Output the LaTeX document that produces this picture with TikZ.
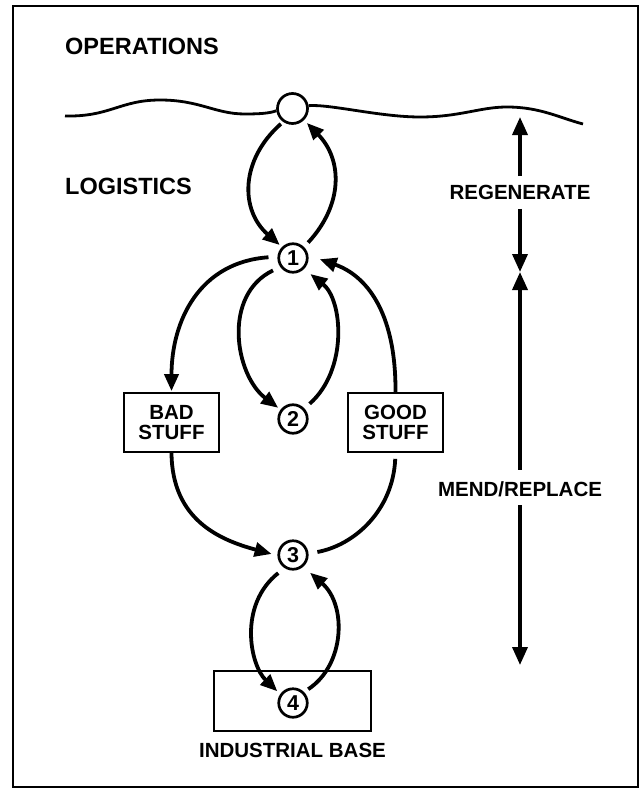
\documentclass[tikz,border=0pt]{standalone}
\usepackage{fontspec}
\setmainfont{Liberation Sans}
\usetikzlibrary{arrows.meta}
\begin{document}
\begin{tikzpicture}[x=1pt,y=-1pt,
  lbl/.style={font=\fontsize{20.5}{20.5}\selectfont\bfseries, inner sep=0pt},
  biglbl/.style={font=\fontsize{23.5}{23.5}\selectfont\bfseries, inner sep=0pt, anchor=west},
  numc/.style={circle, draw, line width=2.7pt, minimum size=28.5pt, inner sep=0pt, fill=white, font=\fontsize{21.5}{21.5}\selectfont\bfseries},
  topc/.style={circle, draw, line width=2.7pt, minimum size=30pt, inner sep=0pt, fill=white},
  stuffbox/.style={draw, line width=1.7pt, minimum width=95pt, minimum height=59pt, align=center, inner sep=0pt, font=\fontsize{20.5}{20}\selectfont\bfseries},
  basebox/.style={draw, line width=1.7pt, minimum width=157pt, minimum height=60pt, inner sep=0pt},
  flow/.style={line width=3.8pt, -{Triangle[length=17pt,width=14pt]}},
  plainflow/.style={line width=3.8pt},
  wave/.style={line width=2.8pt},
  scalearrow/.style={line width=3.6pt, -{Triangle[length=18pt,width=15pt]}},
]
\useasboundingbox (0,0) rectangle (639,797);
\fill[white] (0,0) rectangle (639,797);
\draw[line width=1.3pt] (13,6) rectangle (638,787);

% texts
\node[biglbl] (ops) at (65,46.5) {OPERATIONS};
\node[biglbl] (log) at (65,186.5) {LOGISTICS};
\node[lbl] (reg) at (520,192.5) {REGENERATE};
\node[lbl] (mend) at (520,489.5) {MEND/REPLACE};
\node[lbl] (ind) at (292.5,750) {INDUSTRIAL BASE};

% boxes and circles
\node[basebox] (base) at (292.5,701) {};
\node[topc] (op) at (292.5,108.5) {};
\node[numc] (n1) at (293,258) {1};
\node[numc] (n2) at (293,419) {2};
\node[numc] (n3) at (293,555) {3};
\node[numc] (n4) at (293,703) {4};
\node[stuffbox] (bad) at (171.5,422.5) {BAD\\STUFF};
\node[stuffbox] (good) at (395.5,422.5) {GOOD\\STUFF};

% wave
\draw[wave] (65,116) .. controls (110,117) and (120,100) .. (160,100)
  .. controls (200,100) and (215,114) .. (245,114)
  .. controls (262,114) and (270,113) .. (op.188);
\draw[wave] (op.10) .. controls (330,104) and (380,117) .. (420,117)
  .. controls (460,117) and (480,107) .. (507,107)
  .. controls (540,107) and (560,118) .. (583,124);

% flows
\draw[flow, shorten <=3pt, shorten >=3pt] (op.235) .. controls (240,160) and (240,210) .. (n1.135);
\draw[flow, shorten <=6pt, shorten >=4pt] (n1.45) .. controls (343,205) and (343,160) .. (op.-45);
\draw[flow, shorten <=9pt, shorten >=1pt] (n1.175) .. controls (200,262) and (171.5,320) .. (bad.north);
\draw[flow, shorten <=8pt, shorten >=3pt] (n1.215) .. controls (222,295) and (235,375) .. (n2.143);
\draw[flow, shorten <=7pt, shorten >=8pt] (n2.43) .. controls (348,370) and (343,300) .. (n1.-45);
\draw[flow, shorten <=0pt, shorten >=12pt] (good.north) .. controls (396,310) and (365,275) .. (n1.10);
\draw[flow, shorten <=0pt, shorten >=6pt] (bad.south) .. controls (172,520) and (220,540) .. (n3.182);
\draw[plainflow, shorten <=9pt, shorten >=6pt] (n3.5) .. controls (355,545) and (393,510) .. (good.south);
\draw[flow, shorten <=8pt, shorten >=4pt] (n3.237) .. controls (238,605) and (250,665) .. (n4.145);
\draw[flow, shorten <=5pt, shorten >=9pt] (n4.45) .. controls (345,665) and (347,605) .. (n3.-49);

% scale arrows
\coordinate (top) at (520,117);
\coordinate (mid) at (520,272);
\coordinate (bot) at (520,665);
\draw[scalearrow, shorten <=9pt] (reg.north) -- (top);
\draw[scalearrow, shorten <=9pt] (reg.south) -- (mid);
\draw[scalearrow, shorten <=12pt] (mend.north) -- (mid);
\draw[scalearrow, shorten <=8pt] (mend.south) -- (bot);
\end{tikzpicture}
\end{document}
